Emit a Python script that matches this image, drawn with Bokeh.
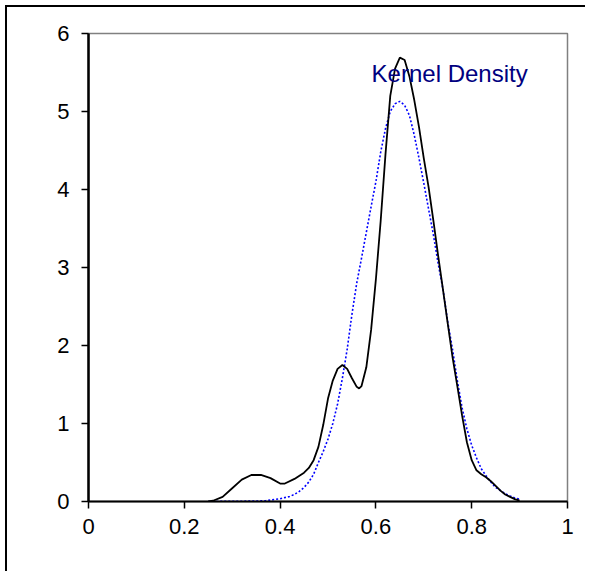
from bokeh.plotting import figure
from bokeh.models import Range1d, Label, FixedTicker
from bokeh.embed import file_html
from bokeh.resources import INLINE

# Kernel density estimate (solid black)
kde_x = [0.25, 0.26, 0.28, 0.30, 0.32, 0.34, 0.36, 0.38, 0.40, 0.41, 0.43, 0.45, 0.46,
         0.47, 0.48, 0.49, 0.50, 0.51, 0.52, 0.53, 0.54, 0.55, 0.56, 0.565, 0.57, 0.58, 0.59,
         0.60, 0.61, 0.62, 0.63, 0.64, 0.65, 0.66, 0.67, 0.68, 0.69, 0.70, 0.71, 0.72,
         0.73, 0.74, 0.75, 0.76, 0.77, 0.78, 0.79, 0.80, 0.81, 0.82, 0.83, 0.84, 0.85,
         0.86, 0.87, 0.88, 0.89, 0.90]
kde_y = [0.00, 0.01, 0.06, 0.17, 0.28, 0.34, 0.34, 0.30, 0.23, 0.23, 0.29, 0.37, 0.43,
         0.53, 0.70, 0.98, 1.32, 1.55, 1.70, 1.75, 1.70, 1.58, 1.47, 1.45, 1.48, 1.72, 2.20,
         2.85, 3.60, 4.45, 5.20, 5.55, 5.69, 5.66, 5.45, 5.15, 4.80, 4.40, 4.03, 3.60,
         3.15, 2.72, 2.28, 1.85, 1.48, 1.10, 0.76, 0.53, 0.40, 0.35, 0.31, 0.26, 0.20,
         0.14, 0.09, 0.06, 0.03, 0.01]

# Normal density (dotted blue)
norm_x = [0.25, 0.30, 0.35, 0.37, 0.40, 0.41, 0.42, 0.43, 0.44, 0.45, 0.46, 0.47, 0.48,
          0.49, 0.50, 0.51, 0.52, 0.53, 0.54, 0.55, 0.56, 0.57, 0.58, 0.59, 0.60, 0.61,
          0.62, 0.63, 0.64, 0.65, 0.66, 0.67, 0.68, 0.69, 0.70, 0.71, 0.72, 0.73, 0.74,
          0.75, 0.76, 0.77, 0.78, 0.79, 0.80, 0.81, 0.82, 0.83, 0.84, 0.85, 0.86, 0.87,
          0.88, 0.89, 0.90]
norm_y = [0.00, 0.002, 0.006, 0.01, 0.035, 0.05, 0.065, 0.09, 0.13, 0.18, 0.25, 0.35, 0.50,
          0.64, 0.80, 1.00, 1.25, 1.58, 1.95, 2.40, 2.80, 3.12, 3.45, 3.78, 4.10, 4.48,
          4.78, 5.00, 5.10, 5.13, 5.08, 4.95, 4.70, 4.40, 4.08, 3.75, 3.42, 3.05, 2.72,
          2.30, 1.95, 1.55, 1.20, 0.93, 0.72, 0.56, 0.42, 0.33, 0.25, 0.18, 0.14, 0.10,
          0.07, 0.045, 0.03]

x_ticks = [0, 0.2, 0.4, 0.6, 0.8, 1]
x_tick_labels = {0: "0", 0.2: "0.2", 0.4: "0.4", 0.6: "0.6", 0.8: "0.8", 1: "1"}
y_ticks = [0, 1, 2, 3, 4, 5, 6]
title_text = "Kernel Density"

FONT = "Liberation Sans"

p = figure(
    width=580, height=566,
    min_border_left=81, min_border_top=26, min_border_right=20, min_border_bottom=72,
    x_range=Range1d(0, 1), y_range=Range1d(0, 6),
    output_backend="svg", toolbar_location=None,
    styles={"border-top": "2px solid black", "border-left": "2px solid black",
            "margin-left": "5px", "margin-top": "5px"},
)
p.background_fill_color = "white"
p.border_fill_color = "white"
p.outline_line_color = "#808080"
p.outline_line_width = 1.5
p.xgrid.visible = False
p.ygrid.visible = False

for ax in (p.xaxis[0], p.yaxis[0]):
    ax.axis_line_color = "black"
    ax.major_tick_line_color = "black"
    ax.major_tick_line_width = 1.5
    ax.major_tick_in = 0
    ax.major_tick_out = 7
    ax.minor_tick_line_color = None
    ax.major_label_text_font = FONT
    ax.major_label_text_font_size = "22px"
    ax.major_label_text_color = "black"

p.xaxis[0].axis_line_width = 2
p.yaxis[0].axis_line_width = 2.5
p.xaxis[0].ticker = FixedTicker(ticks=x_ticks)
p.xaxis[0].major_label_overrides = x_tick_labels
p.xaxis[0].major_label_standoff = 10
p.yaxis[0].ticker = FixedTicker(ticks=y_ticks)
p.yaxis[0].major_label_standoff = 12

p.line(norm_x, norm_y, line_color="#0000FF", line_width=1.6, line_dash="2 2")
p.line(kde_x, kde_y, line_color="black", line_width=1.8)

p.add_layout(Label(x=0.591, y=5.49, text=title_text, text_font=FONT,
                   text_font_size="24px", text_color="#000080",
                   text_align="left", text_baseline="alphabetic"))

open("out.html", "w").write(file_html(p, INLINE))
